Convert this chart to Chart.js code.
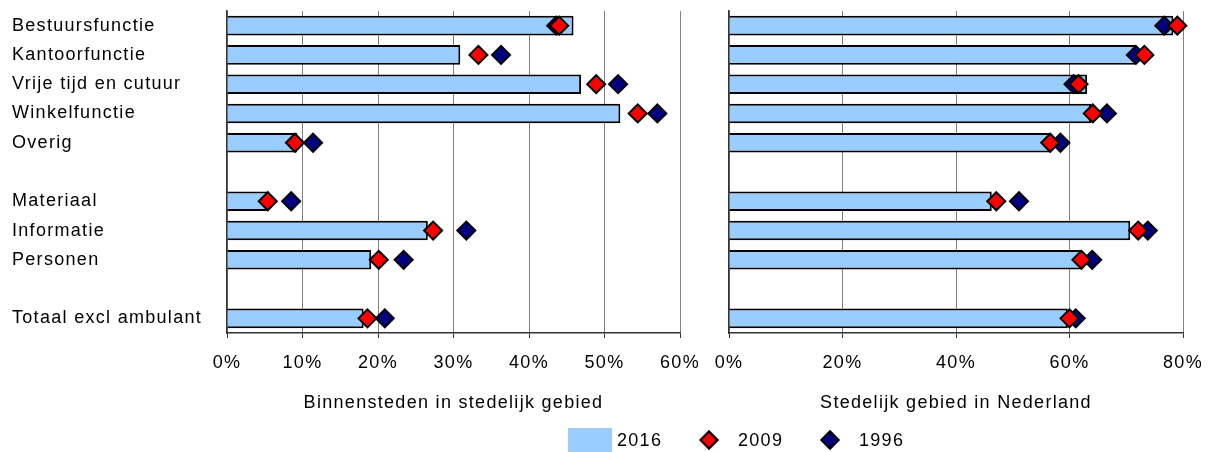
<!DOCTYPE html>
<html>
<head>
<meta charset="utf-8">
<script src="https://cdn.jsdelivr.net/npm/chart.js@4"></script>
<style>
  html, body { margin: 0; padding: 0; background: #fff; }
  body { width: 1212px; height: 452px; position: relative; overflow: hidden;
         font-family: "Liberation Sans", Arial, sans-serif; color: #000; }
  #wrapLeft { position: absolute; left: 0; top: 0; width: 705px; height: 430px; }
  #wrapRight { position: absolute; left: 705px; top: 0; width: 507px; height: 430px; }
  .lg { position: absolute; }
  .lg-text { font-size: 18px; letter-spacing: 1.3px; line-height: 24px; top: 428px; }
  .lg-box { left: 568px; top: 428px; width: 44px; height: 24px; background: #99ccff; }
  .lg-dia { width: 10px; height: 10px; border: 2px solid #000; transform: rotate(45deg); top: 433px; }
</style>
</head>
<body>
<div id="wrapLeft"><canvas id="left" width="705" height="430"></canvas></div>
<div id="wrapRight"><canvas id="right" width="507" height="430"></canvas></div>

<div class="lg lg-box"></div>
<div class="lg lg-text" style="left:617px">2016</div>
<div class="lg lg-dia" style="left:702px;background:#ff0000"></div>
<div class="lg lg-text" style="left:738px">2009</div>
<div class="lg lg-dia" style="left:823px;background:#000080"></div>
<div class="lg lg-text" style="left:859px">1996</div>

<script>
// categories (empty strings are the spacer rows)
const categories = ['Bestuursfunctie', 'Kantoorfunctie', 'Vrije tijd en cutuur', 'Winkelfunctie', 'Overig', '',
  'Materiaal', 'Informatie', 'Personen', '', 'Totaal excl ambulant'];

// Binnensteden in stedelijk gebied (%)
const binnen2016 = [45.9, 30.9, 46.9, 52.1, 9.3, null, 5.5, 26.6, 19.1, null, 18.1];
const binnen2009 = [44.0, 33.3, 48.9, 54.4, 9.0, null, 5.4, 27.3, 20.1, null, 18.6];
const binnen1996 = [43.6, 36.3, 51.8, 57.0, 11.4, null, 8.5, 31.7, 23.4, null, 20.9];

// Stedelijk gebied in Nederland (%)
const stad2016 = [78.3, 71.7, 63.1, 63.8, 56.6, null, 46.3, 70.7, 62.2, null, 59.7];
const stad2009 = [79.0, 73.2, 61.6, 64.1, 56.6, null, 47.1, 72.1, 62.1, null, 60.0];
const stad1996 = [76.7, 71.7, 60.7, 66.6, 58.4, null, 51.1, 73.8, 64.0, null, 61.1];

const binnenTicks = [0, 10, 20, 30, 40, 50, 60];
const stadTicks = [0, 20, 40, 60, 80];

Chart.defaults.font.family = '"Liberation Sans", Arial, sans-serif';
Chart.defaults.font.size = 18;
Chart.defaults.color = '#000';

// the original text is set a bit wide
const spacing = {
  id: 'spacing',
  beforeUpdate(chart) { chart.ctx.letterSpacing = '1.3px'; },
  beforeDraw(chart) { chart.ctx.letterSpacing = '1.3px'; }
};

function diamonds(label, data, color, order) {
  return {
    type: 'line', label, data, order,
    indexAxis: 'y',
    showLine: false,
    clip: false,
    pointStyle: 'rectRot',
    pointRadius: 9,
    pointBorderWidth: 2,
    pointBorderColor: '#000',
    pointBackgroundColor: color
  };
}

function makeChart(id, v2016, v2009, v1996, ticks, title, showLabels, pad, yWidth) {
  return new Chart(document.getElementById(id), {
    type: 'bar',
    data: {
      labels: categories,
      datasets: [
        {
          label: '2016', data: v2016, order: 3,
          backgroundColor: '#99ccff', borderColor: '#000', borderWidth: 2,
          barPercentage: 0.67, categoryPercentage: 1.0
        },
        diamonds('2009', v2009, '#ff0000', 1),
        diamonds('1996', v1996, '#000080', 2)
      ]
    },
    options: {
      indexAxis: 'y',
      responsive: false,
      animation: false,
      events: [],
      layout: { padding: pad },
      plugins: { legend: { display: false }, tooltip: { enabled: false } },
      scales: {
        y: {
          type: 'category',
          grid: { display: false },
          border: { display: true, color: '#333', width: 1.5 },
          ticks: { display: showLabels, crossAlign: 'far', padding: 0, autoSkip: false },
          afterFit(s) { s.width = yWidth; s.paddingTop = 0; s.paddingBottom = 0; }
        },
        x: {
          type: 'linear',
          min: ticks[0],
          max: ticks[ticks.length - 1],
          afterBuildTicks(s) { s.ticks = ticks.map(v => ({ value: v })); },
          ticks: { padding: 14, maxRotation: 0, callback: v => v + '%' },
          grid: { color: '#808080', lineWidth: 1, drawTicks: true, tickLength: 5, tickColor: '#333' },
          border: { color: '#333', width: 1.5 },
          title: { display: true, text: title, padding: { top: 0, bottom: 16 } },
          afterFit(s) { s.height = 97; s.paddingLeft = 0; s.paddingRight = 0; }
        }
      }
    },
    plugins: [spacing]
  });
}

makeChart('left', binnen2016, binnen2009, binnen1996, binnenTicks,
  'Binnensteden in stedelijk gebied', true, { left: 12, top: 11, right: 25, bottom: 0 }, 215);
makeChart('right', stad2016, stad2009, stad1996, stadTicks,
  'Stedelijk gebied in Nederland', false, { left: 0, top: 11, right: 29, bottom: 0 }, 24);
</script>
</body>
</html>
